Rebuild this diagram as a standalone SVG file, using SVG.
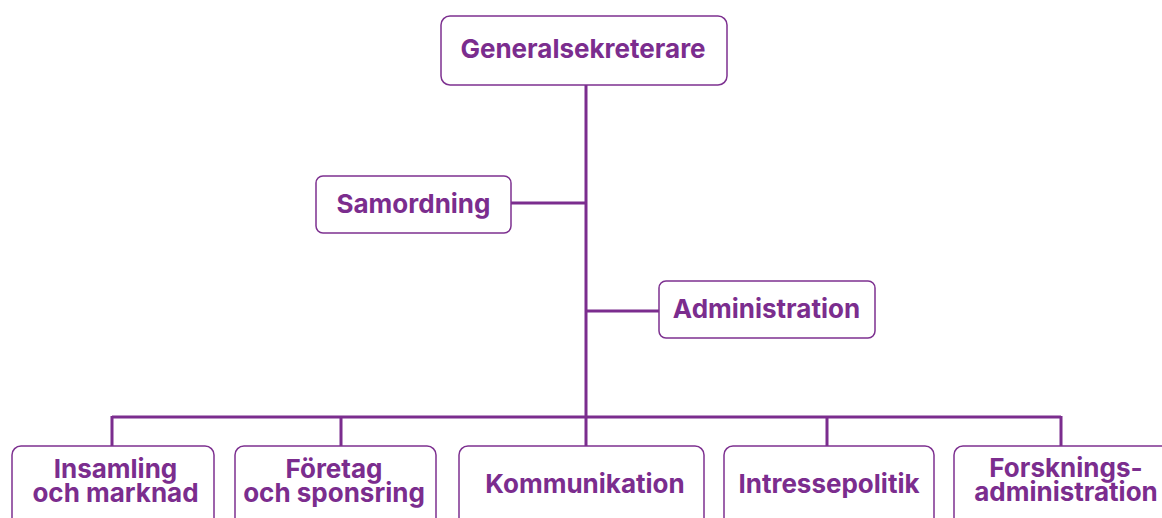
<svg xmlns="http://www.w3.org/2000/svg" width="1162" height="518" viewBox="0 0 1162 518">
<style>
.box{fill:#fff;stroke:#7d3190;stroke-width:1.5}
.lbl{font-family:Inter,"Liberation Sans",sans-serif;font-weight:700;font-size:26px;fill:#7b2d8e;text-anchor:middle}
.con{stroke:#7b2d8e;stroke-width:3;fill:none}
</style>
<rect width="1162" height="518" fill="#fff"/>
<g id="connectors">
<path class="con" d="M586 85V417M511 203H586M586 311H659M112 417H1061M112 416V446M341 416V446M586 416V446M827 416V446M1061 416V446"/>
</g>
<g id="n-gs"><rect class="box" x="441" y="16" width="286" height="69" rx="9"/><text class="lbl" x="583" y="58">Generalsekreterare</text></g>
<g id="n-sam"><rect class="box" x="316" y="176" width="195" height="57" rx="7"/><text class="lbl" x="413.5" y="213">Samordning</text></g>
<g id="n-adm"><rect class="box" x="659" y="281" width="216" height="57" rx="7"/><text class="lbl" x="766.5" y="318">Administration</text></g>
<g id="n-ins"><rect class="box" x="12" y="446" width="202" height="90" rx="9"/><text class="lbl" x="115.5" y="478">Insamling</text><text class="lbl" x="115.5" y="502">och marknad</text></g>
<g id="n-for"><rect class="box" x="235" y="446" width="201" height="90" rx="9"/><text class="lbl" x="334" y="478">Företag</text><text class="lbl" x="334" y="502">och sponsring</text></g>
<g id="n-kom"><rect class="box" x="459" y="446" width="245" height="90" rx="9"/><text class="lbl" x="585" y="493">Kommunikation</text></g>
<g id="n-int"><rect class="box" x="724" y="446" width="210" height="90" rx="9"/><text class="lbl" x="829" y="493">Intressepolitik</text></g>
<g id="n-fa"><rect class="box" x="954" y="446" width="230" height="90" rx="9"/><text class="lbl" x="1066" y="477">Forsknings-</text><text class="lbl" x="1066" y="501">administration</text></g>
</svg>
